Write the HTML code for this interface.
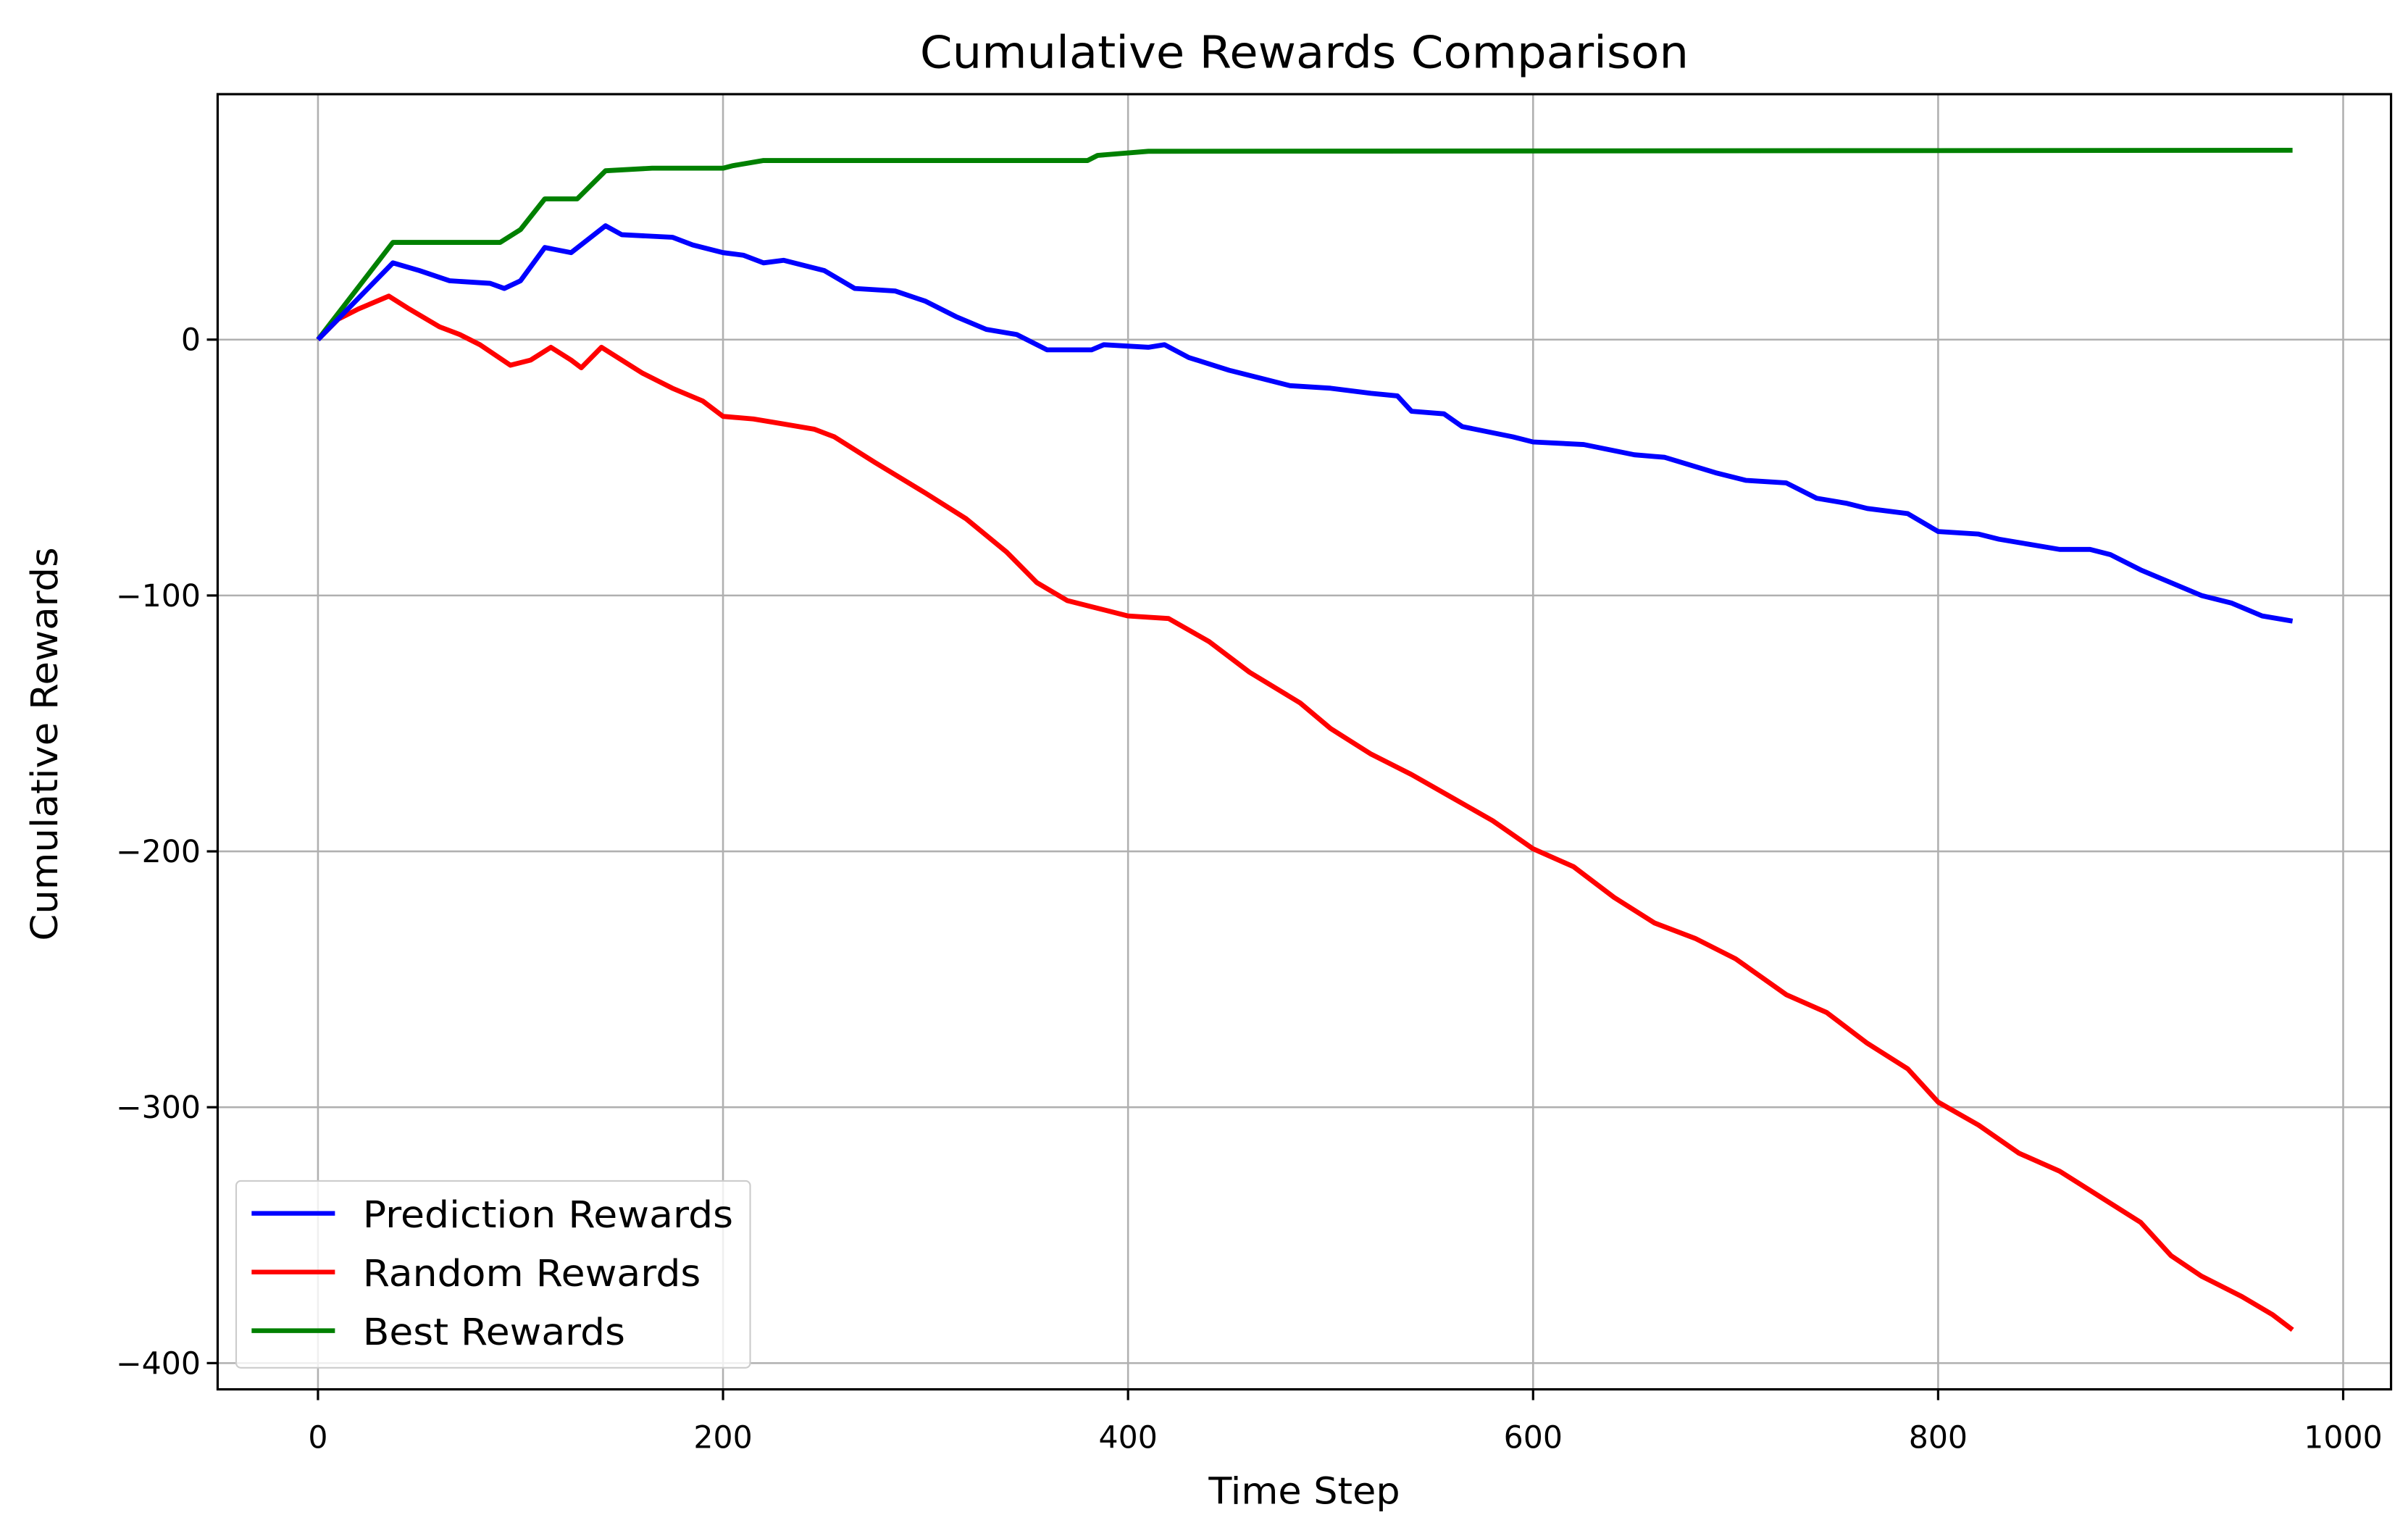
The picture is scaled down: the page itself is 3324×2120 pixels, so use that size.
<!DOCTYPE html>
<html><head><meta charset="utf-8">
<style>
html,body{margin:0;padding:0;background:#fff;}
svg{display:block;}
text{font-family:"DejaVu Sans","Liberation Sans",sans-serif;fill:#000;}
</style></head>
<body>
<svg id="chart" width="3324" height="2120" viewBox="0 0 1560 995" preserveAspectRatio="none" xmlns="http://www.w3.org/2000/svg">
<rect x="0" y="0" width="1560" height="995" fill="#fff"/>
<g id="grid"></g>
<g id="series"></g>
<rect x="141" y="61" width="1408" height="839" fill="none" stroke="#000" stroke-width="1.5"/>
<g id="ticks"></g>
<text x="845" y="44" font-size="29" text-anchor="middle" textLength="498" lengthAdjust="spacingAndGlyphs">Cumulative Rewards Comparison</text>
<text x="845" y="974" font-size="24" text-anchor="middle" textLength="124" lengthAdjust="spacingAndGlyphs">Time Step</text>
<text x="0" y="0" font-size="24" text-anchor="middle" textLength="255" lengthAdjust="spacingAndGlyphs" transform="translate(37,482) rotate(-90)">Cumulative Rewards</text>
<g>
<rect x="153" y="765" width="333" height="121" rx="3" fill="#fff" fill-opacity="0.8" stroke="#ccc" stroke-width="1"/>
<line x1="163" y1="786" x2="217" y2="786" stroke="#0000ff" stroke-width="3"/>
<text x="235" y="795" font-size="24" textLength="240" lengthAdjust="spacingAndGlyphs">Prediction Rewards</text>
<line x1="163" y1="824" x2="217" y2="824" stroke="#ff0000" stroke-width="3"/>
<text x="235" y="833" font-size="24" textLength="219" lengthAdjust="spacingAndGlyphs">Random Rewards</text>
<line x1="163" y1="862" x2="217" y2="862" stroke="#008000" stroke-width="3"/>
<text x="235" y="871" font-size="24" textLength="170" lengthAdjust="spacingAndGlyphs">Best Rewards</text>
</g>
</svg>
<script>
const xTicks = [0, 200, 400, 600, 800, 1000];
const yTicks = [0, -100, -200, -300, -400];
const bestSteps = [0,37,90,100,112,128,142,165,200,205,220,380,385,410,975];
const bestValues = [0,38,38,43,55,55,66,67,67,68,70,70,72,73.6,74];
const predSteps = [0,37,50,65,85,92,100,112,125,142,150,175,185,200,210,220,230,250,265,285,300,315,330,345,360,382,388,410,418,430,450,465,480,500,520,533,540,556,565,590,600,625,650,665,690,705,725,740,755,765,785,800,820,830,845,860,875,885,900,915,930,945,960,975];
const predValues = [0,30,27,23,22,20,23,36,34,44.5,41,40,37,34,33,30,31,27,20,19,15,9,4,2,-4,-4,-2,-3,-2,-7,-12,-15,-18,-19,-21,-22,-28,-29,-34,-38,-40,-41,-45,-46,-52,-55,-56,-62,-64,-66,-68,-75,-76,-78,-80,-82,-82,-84,-90,-95,-100,-103,-108,-110];
const randSteps = [0,10,20,35,45,60,70,80,95,105,115,125,130,140,150,160,175,190,200,215,230,245,255,275,300,320,340,355,370,385,400,420,440,460,485,500,520,540,560,580,600,620,640,660,680,700,725,745,765,785,800,820,840,860,880,900,915,930,950,965,975];
const randValues = [0,8,12,17,12,5,2,-2,-10,-8,-3,-8,-11,-3,-8,-13,-19,-24,-30,-31,-33,-35,-38,-48,-60,-70,-83,-95,-102,-105,-108,-109,-118,-130,-142,-152,-162,-170,-179,-188,-199,-206,-218,-228,-234,-242,-256,-263,-275,-285,-298,-307,-318,-325,-335,-345,-358,-366,-374,-381,-387];

const NS = 'http://www.w3.org/2000/svg';
function xs(v){ return 206 + (v - 0) * (1518 - 206) / 1000; }
function ys(v){ return 220 - v * 1.6575; }
function mk(tag, attrs, parent){
  const e = document.createElementNS(NS, tag);
  for (const k in attrs) e.setAttribute(k, attrs[k]);
  parent.appendChild(e);
  return e;
}
const grid = document.getElementById('grid');
const ticks = document.getElementById('ticks');
const series = document.getElementById('series');
xTicks.forEach(t => {
  const x = xs(t);
  const g = mk('line', {x1:x, y1:61, x2:x, y2:900, stroke:'#b0b0b0', 'stroke-width':1.2}, grid);
  
  
  const tk = mk('line', {x1:x, y1:900, x2:x, y2:907, stroke:'#000', 'stroke-width':1.5}, ticks);
  
  
  const tx = mk('text', {x:x, y:938, 'font-size':20, 'text-anchor':'middle'}, ticks);
  tx.textContent = String(t);
  
  
});
yTicks.forEach(t => {
  const y = ys(t);
  const g = mk('line', {x1:141, y1:y, x2:1549, y2:y, stroke:'#b0b0b0', 'stroke-width':1.2}, grid);
  
  
  const tk = mk('line', {x1:134, y1:y, x2:141, y2:y, stroke:'#000', 'stroke-width':1.5}, ticks);
  
  
  const tx = mk('text', {x:130, y:y+7, 'font-size':20, 'text-anchor':'end'}, ticks);
  tx.textContent = t < 0 ? '\u2212' + Math.abs(t) : String(t);
  
  
});
function drawLine(steps, vals, color, name){
  const pts = steps.map((s,i) => xs(s).toFixed(2) + ',' + ys(vals[i]).toFixed(2)).join(' ');
  const p = mk('polyline', {points:pts, fill:'none', stroke:color, 'stroke-width':3.2, 'stroke-linejoin':'round'}, series);
  
  
}
drawLine(bestSteps, bestValues, '#008000', 'best-rewards-line');
drawLine(randSteps, randValues, '#ff0000', 'random-rewards-line');
drawLine(predSteps, predValues, '#0000ff', 'prediction-rewards-line');
</script>
</body></html>
